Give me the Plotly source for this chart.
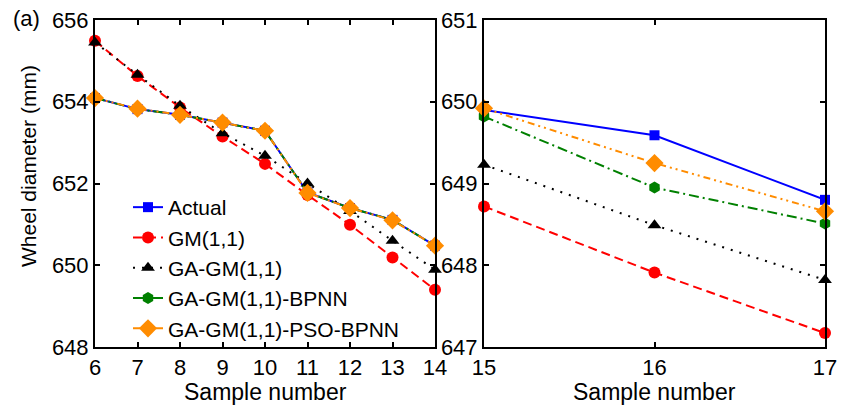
import plotly.graph_objects as go

# ---- data ----
x_left = [6, 7, 8, 9, 10, 11, 12, 13, 14]
x_right = [15, 16, 17]

actual_left = [654.09, 653.82, 653.68, 653.49, 653.29, 651.78, 651.40, 651.11, 650.48]
gm_left = [655.49, 654.63, 653.86, 653.15, 652.48, 651.72, 650.99, 650.19, 649.40]
gagm_left = [655.45, 654.66, 653.90, 653.23, 652.68, 652.00, 651.33, 650.60, 649.89]
bpnn_left = [654.09, 653.82, 653.68, 653.49, 653.29, 651.78, 651.40, 651.11, 650.48]
pso_left = [654.09, 653.83, 653.68, 653.49, 653.29, 651.77, 651.40, 651.10, 650.48]

actual_right = [649.90, 649.59, 648.80]
gm_right = [648.72, 647.91, 647.17]
gagm_right = [649.23, 648.49, 647.82]
bpnn_right = [649.82, 648.95, 648.51]
pso_right = [649.92, 649.25, 648.66]

names = ["Actual", "GM(1,1)", "GA-GM(1,1)", "GA-GM(1,1)-BPNN", "GA-GM(1,1)-PSO-BPNN"]
left_series = [actual_left, gm_left, gagm_left, bpnn_left, pso_left]
right_series = [actual_right, gm_right, gagm_right, bpnn_right, pso_right]

colors = ["#0000FF", "#FF0000", "#000000", "#008000", "#FF8C00"]
dashes = ["solid", "9px,5px", "2px,7px", "10px,4px,2px,4px", "7px,4px,2px,4px,2px,4px"]
symbols = ["square", "circle", "triangle-up", "hexagon", "diamond"]
sizes = [10, 12, 12, 12, 14]

fig = go.Figure()
for i in range(5):
    fig.add_trace(go.Scatter(
        x=x_left, y=left_series[i], name=names[i], mode="lines+markers",
        line=dict(color=colors[i], dash=dashes[i], width=2),
        marker=dict(symbol=symbols[i], size=sizes[i], color=colors[i]),
        cliponaxis=False, xaxis="x", yaxis="y"))
for i in range(5):
    fig.add_trace(go.Scatter(
        x=x_right, y=right_series[i], name=names[i], mode="lines+markers",
        line=dict(color=colors[i], dash=dashes[i], width=2),
        marker=dict(symbol=symbols[i], size=sizes[i], color=colors[i]),
        cliponaxis=False, xaxis="x2", yaxis="y2", showlegend=False))

FAM = "Liberation Sans, Arial, sans-serif"
font = dict(family=FAM, size=22, color="black")
ytitle_font = dict(family=FAM, size=21, color="black")
title_font = dict(family=FAM, size=23, color="black")
legend_font = dict(family=FAM, size=21, color="black")
axcommon = dict(showline=True, linecolor="black", linewidth=2, mirror="ticks",
                ticks="inside", ticklen=5, tickwidth=1.5, tickcolor="black",
                showgrid=False, zeroline=False, tickfont=font, automargin=False)

ydom = [1 - 347 / 406, 1 - 20 / 406]
fig.update_layout(
    width=841, height=406,
    margin=dict(l=0, r=0, t=0, b=0),
    paper_bgcolor="white", plot_bgcolor="white",
    font=font,
    xaxis=dict(domain=[95 / 841, 435 / 841], range=[6, 14], dtick=1, tick0=6, **axcommon),
    yaxis=dict(domain=ydom, range=[648, 656], dtick=2, tick0=648, anchor="x", **axcommon),
    xaxis2=dict(domain=[484 / 841, 825 / 841], range=[15, 17], dtick=1, tick0=15,
                anchor="y2", **axcommon),
    yaxis2=dict(domain=ydom, range=[647, 651], dtick=1, tick0=647, anchor="x2", **axcommon),
    legend=dict(x=128 / 841, y=1 - 187 / 406, xanchor="left", yanchor="top",
                bgcolor="rgba(0,0,0,0)", font=legend_font, tracegroupgap=0,
                itemsizing="trace"),
    showlegend=True,
    annotations=[
        dict(text="Wheel diameter (mm)", x=28 / 841, y=1 - 166 / 406, xref="paper",
             yref="paper", textangle=-90, showarrow=False, font=ytitle_font,
             xanchor="center", yanchor="middle"),
        dict(text="Sample number", x=265 / 841, y=1 - 392 / 406, xref="paper",
             yref="paper", showarrow=False, font=title_font, xanchor="center", yanchor="middle"),
        dict(text="Sample number", x=654 / 841, y=1 - 392 / 406, xref="paper",
             yref="paper", showarrow=False, font=title_font, xanchor="center", yanchor="middle"),
        dict(text="(a)", x=11 / 841, y=1 - 18 / 406, xref="paper", yref="paper",
             showarrow=False, font=font, xanchor="left", yanchor="middle"),
    ],
)

fig.write_html("out.html", config={"displayModeBar": False},
               post_script="document.body.style.margin='0px';document.body.style.overflow='hidden';")
